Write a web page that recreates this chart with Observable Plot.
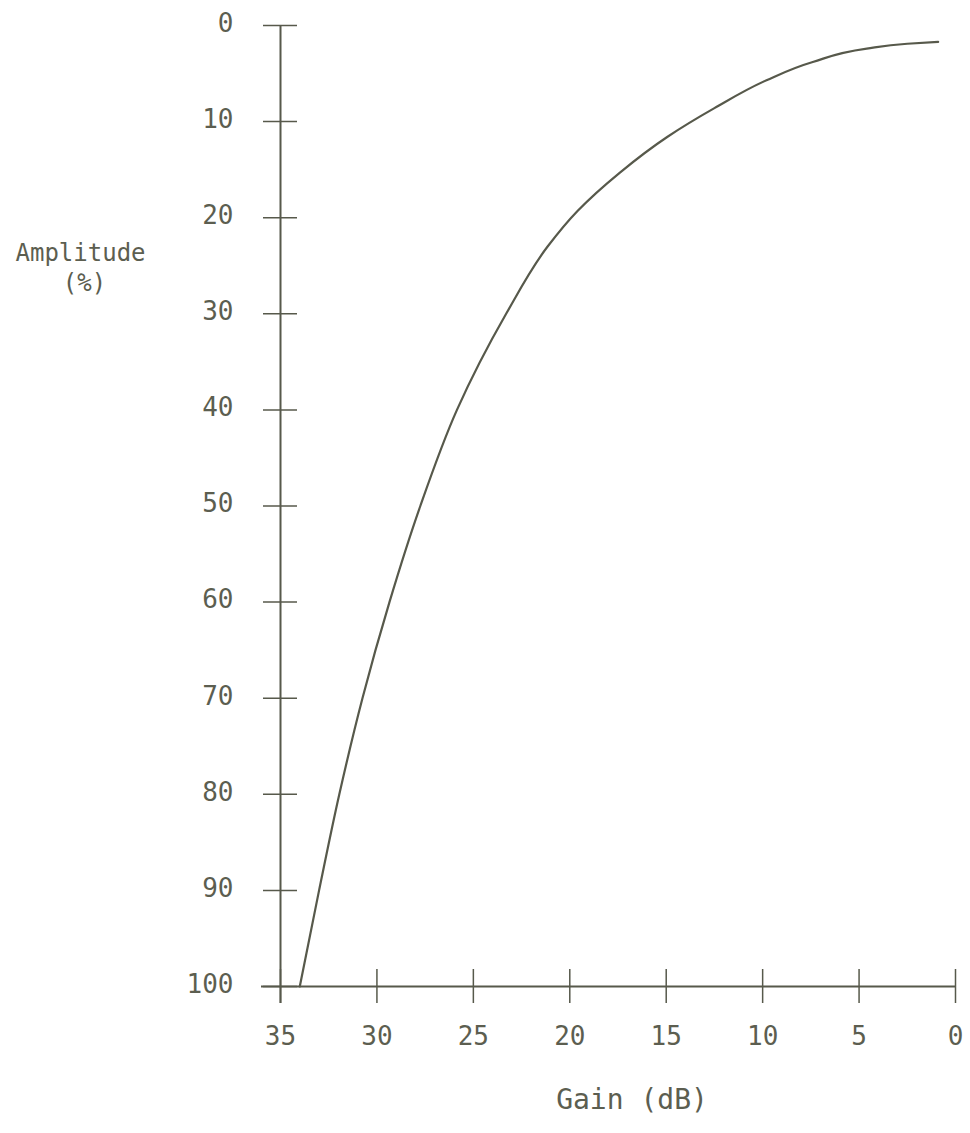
<!DOCTYPE html>
<html>
<head>
<meta charset="utf-8">
<script src="https://cdn.jsdelivr.net/npm/d3@7"></script>
<script src="https://cdn.jsdelivr.net/npm/@observablehq/plot@0.6"></script>
<style>
  html, body { margin: 0; padding: 0; background: #fff; }
</style>
</head>
<body>
<div id="chart"></div>
<script>
// Curve
const gain = [34.0, 33.0, 31.95, 30.75, 29.35, 27.75, 25.85, 23.3, 21.15, 19.6, 17.4, 14.95, 12.5, 9.8, 7.4, 4.6, 2.5, 0.9];
const amplitude = [100, 90, 80, 70, 60, 50, 40, 30, 23, 19.3, 15.3, 11.6, 8.6, 5.7, 3.8, 2.4, 1.9, 1.7];

// Axis ticks
const yTicks = [0, 10, 20, 30, 40, 50, 60, 70, 80, 90, 100];
const xTicks = [35, 30, 25, 20, 15, 10, 5, 0];

const yLabelLines = ["Amplitude", "(%)"];
const xLabel = "Gain (dB)";

const ink = "#57594b";
const textInk = "#5c5e50";

const curve = gain.map((g, i) => ({gain: g, amp: amplitude[i]}));

const chart = Plot.plot({
  width: 970,
  height: 1133,
  marginLeft: 280,
  marginRight: 15,
  marginTop: 25,
  marginBottom: 147,
  style: {fontFamily: "'DejaVu Sans Mono', monospace", color: textInk, background: "#fff"},
  x: {domain: [35, 0], ticks: xTicks, label: null},
  y: {domain: [0, 100], reverse: true, ticks: yTicks, label: null},
  marks: [
    // y axis line (extends below the x axis)
    Plot.ruleX([35], {y1: 0, y2: 100, insetBottom: -17, stroke: ink, strokeWidth: 2}),
    // x axis line (starts left of the y axis)
    Plot.ruleY([100], {x1: 35, x2: 0, insetLeft: -19, stroke: ink, strokeWidth: 2}),
    // y ticks crossing the axis
    Plot.ruleY(yTicks, {y: d => d, x1: 35, x2: 35, insetLeft: -17, insetRight: -17, stroke: ink, strokeWidth: 1.5}),
    // x ticks crossing the axis
    Plot.ruleX(xTicks, {x: d => d, y1: 100, y2: 100, insetTop: -17, insetBottom: -17, stroke: ink, strokeWidth: 1.5}),
    Plot.axisY(yTicks, {anchor: "left", tickSize: 0, tickPadding: 47, dy: -2, fontSize: 26, fill: textInk, label: null}),
    Plot.axisX(xTicks, {anchor: "bottom", tickSize: 0, tickPadding: 40, fontSize: 26, fill: textInk, label: null}),
    Plot.line(curve, {x: "gain", y: "amp", curve: "monotone-y", stroke: ink, strokeWidth: 2.2}),
    Plot.text([yLabelLines[0]], {frameAnchor: "top-left", dx: -200, dy: 228, fontSize: 24, textAnchor: "middle", lineAnchor: "middle", fill: textInk}),
    Plot.text([yLabelLines[1]], {frameAnchor: "top-left", dx: -196, dy: 258, fontSize: 24, textAnchor: "middle", lineAnchor: "middle", fill: textInk}),
    Plot.text([xLabel], {frameAnchor: "bottom", dx: 14, dy: 114, fontSize: 28, textAnchor: "middle", lineAnchor: "middle", fill: textInk})
  ]
});

document.getElementById("chart").appendChild(chart);
</script>
</body>
</html>
